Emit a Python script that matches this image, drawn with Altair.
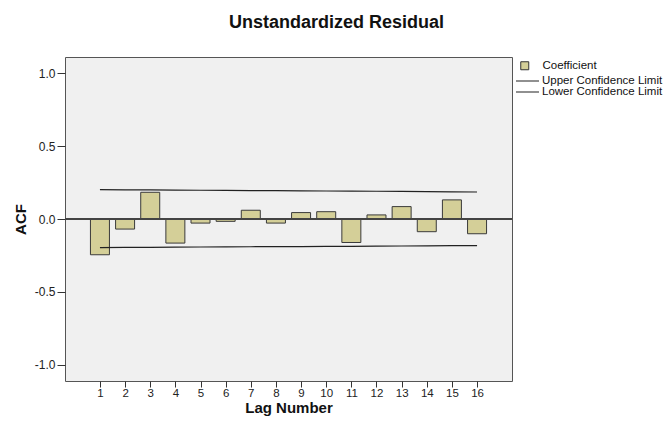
import altair as alt
import pandas as pd

# Data
lags = list(range(1, 17))
acf = [-0.245, -0.069, 0.183, -0.165, -0.028, -0.016, 0.060, -0.028,
       0.044, 0.050, -0.161, 0.028, 0.085, -0.087, 0.131, -0.101]
upper = [0.201, 0.200, 0.199, 0.198, 0.197, 0.196, 0.195, 0.194,
         0.193, 0.192, 0.191, 0.190, 0.189, 0.188, 0.186, 0.185]
lower = [-0.196, -0.195, -0.194, -0.193, -0.192, -0.191, -0.190, -0.189,
         -0.189, -0.188, -0.187, -0.186, -0.185, -0.184, -0.183, -0.182]
y_ticks = [-1.0, -0.5, 0.0, 0.5, 1.0]
series_bar = ["Coefficient"]
series_lines = ["Upper Confidence Limit", "Lower Confidence Limit"]

bar_df = pd.DataFrame({"lag": lags, "acf": acf, "series": series_bar[0]})
line_df = pd.concat([
    pd.DataFrame({"lag": lags, "acf": upper, "series": series_lines[0]}),
    pd.DataFrame({"lag": lags, "acf": lower, "series": series_lines[1]}),
])

FONT = "Liberation Sans"

x_enc = alt.X("lag:Q",
              scale=alt.Scale(domain=[-0.39, 17.39], nice=False, zero=False,
                              padding=0),
              axis=alt.Axis(values=lags, format="d", title="Lag Number",
                            grid=False, domain=False, tickSize=6,
                            labelPadding=0, titlePadding=2,
                            labelFontSize=11.5, labelFlush=False))
y_enc = alt.Y("acf:Q",
              scale=alt.Scale(domain=[-1.11, 1.11], nice=False, zero=False,
                              padding=0),
              axis=alt.Axis(values=y_ticks, format=".1f", title="ACF",
                            labelExpr="replace(format(datum.value, '.1f'), '\u2212', '-')",
                            grid=False, domain=False, tickSize=8,
                            labelPadding=2, titlePadding=6))

bars = alt.Chart(bar_df).mark_bar(
    size=19, stroke="#3a3a3a", strokeWidth=1
).encode(
    x=x_enc, y=y_enc,
    fill=alt.Fill("series:N",
                  scale=alt.Scale(domain=series_bar, range=["#D4CF98"]),
                  legend=alt.Legend(title=None, orient="none", legendX=454,
                                    legendY=3, symbolType="square",
                                    symbolSize=64, symbolStrokeColor="#333333",
                                    symbolStrokeWidth=1, labelOffset=12,
                                    labelFontSize=11.5, labelFont=FONT,
                                    padding=0))
)

zero = alt.Chart(bar_df).mark_rule(color="#444444", strokeWidth=1).encode(
    y=alt.datum(0)
)

lines = alt.Chart(line_df).mark_line(strokeWidth=1.2).encode(
    x=x_enc, y=y_enc,
    stroke=alt.Stroke("series:N",
                      scale=alt.Scale(domain=series_lines,
                                      range=["#222222", "#222222"]),
                      sort=series_lines,
                      legend=alt.Legend(title=None, orient="none", legendX=450,
                                        legendY=19, symbolType="stroke",
                                        symbolSize=529, symbolStrokeWidth=1.2,
                                        labelOffset=2, labelFontSize=11.5,
                                        labelFont=FONT, rowPadding=-2,
                                        clipHeight=10, padding=0))
)

chart = alt.layer(bars, zero, lines).resolve_legend(
    fill="independent", stroke="independent"
).properties(
    width=447, height=324,
    autosize=alt.AutoSizeParams(type="none"),
    padding={"left": 57, "top": 49, "right": 151, "bottom": 40},
    title=alt.TitleParams("Unstandardized Residual", font=FONT, fontSize=18,
                          fontWeight="bold", anchor="middle", dx=48,
                          offset=25, color="#111111"),
    background="white",
).configure_view(
    fill="#F0F0F0", stroke="#555555", strokeWidth=1
).configure_axis(
    labelFont=FONT, labelFontSize=12, labelColor="#222222",
    titleFont=FONT, titleFontSize=15, titleFontWeight="bold",
    titleColor="#111111", tickColor="#333333"
).configure_legend(
    labelColor="#111111"
)

chart.save("out.html", embed_options={"renderer": "svg", "actions": False})
